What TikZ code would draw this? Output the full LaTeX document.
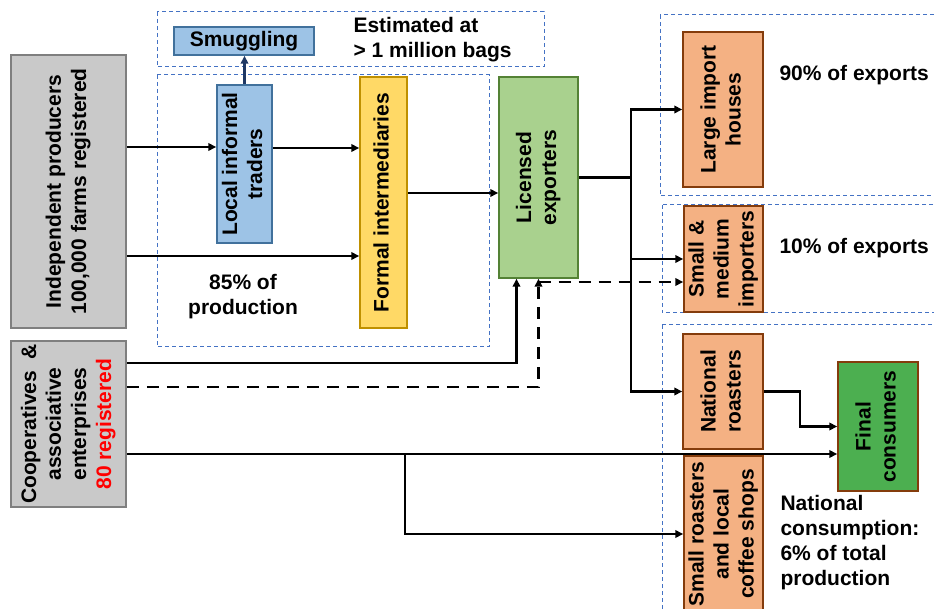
\documentclass[tikz,border=0pt]{standalone}
\usepackage{fontspec}
\setmainfont{Liberation Sans}
\usepackage{graphicx}
\usetikzlibrary{arrows.meta}

\newcommand{\vlines}[1]{\rotatebox{90}{\begin{tabular}{@{}c@{}}#1\end{tabular}}}

\begin{document}
\begin{tikzpicture}[x=1pt,y=1pt,yscale=-1,xscale=1,
  every node/.style={font=\fontsize{21}{25}\selectfont\bfseries},
  box/.style={draw, line width=1.5pt, inner sep=0pt},
  graybox/.style={box, draw={rgb, 255:red, 127; green, 127; blue, 127 }, fill={rgb, 255:red, 201; green, 201; blue, 201 }},
  bluebox/.style={box, draw={rgb, 255:red, 65; green, 113; blue, 156 }, fill={rgb, 255:red, 157; green, 195; blue, 230 }},
  yellowbox/.style={box, draw={rgb, 255:red, 191; green, 144; blue, 0 }, fill={rgb, 255:red, 255; green, 217; blue, 102 }},
  lgreenbox/.style={box, draw={rgb, 255:red, 84; green, 130; blue, 53 }, fill={rgb, 255:red, 169; green, 209; blue, 142 }},
  orangebox/.style={box, draw={rgb, 255:red, 132; green, 60; blue, 12 }, fill={rgb, 255:red, 244; green, 177; blue, 131 }},
  greenbox/.style={box, draw={rgb, 255:red, 132; green, 60; blue, 12 }, fill={rgb, 255:red, 76; green, 175; blue, 80 }},
  region/.style={draw={rgb, 255:red, 68; green, 114; blue, 196 }, line width=1pt, dash pattern=on 4pt off 3pt},
  line/.style={line width=2.7pt},
  flow/.style={line, -{Triangle[length=8pt,width=7.5pt]}},
  dflow/.style={flow, dash pattern=on 12pt off 8pt},
  smugflow/.style={line, draw={rgb, 255:red, 31; green, 56; blue, 100 }, -{Triangle[length=8pt,width=7.5pt]}}
]
\useasboundingbox (0,0) rectangle (934,609);
\clip (0,0) rectangle (934,609);

%Shape: Rectangle (dashed regions)
\draw [region] (157,12) rectangle (544,67) ;
\draw [region] (157,75) rectangle (489,347) ;
\draw [region] (660,15) rectangle (945,196) ;
\draw [region] (662,205) rectangle (945,313) ;
\draw [region] (662,325) rectangle (945,625) ;

%Shape: Rectangle
\node [graybox, minimum width=115pt, minimum height=273pt] (indep) at (68.5,191.5) {\vlines{Independent producers\\100,000 farms registered}};
%Shape: Rectangle
\node [graybox, minimum width=115pt, minimum height=166pt] (coop) at (68.5,424) {\vlines{Cooperatives \ \&\\associative\\enterprises\\\textcolor{red}{80 registered}}};
%Shape: Rectangle
\node [bluebox, minimum width=140pt, minimum height=28pt] (smug) at (244,41) {Smuggling};
%Shape: Rectangle
\node [bluebox, minimum width=55pt, minimum height=158pt] (local) at (244.5,164) {\vlines{Local informal\\traders}};
%Shape: Rectangle
\node [yellowbox, minimum width=47pt, minimum height=251pt] (formal) at (383.5,202.5) {\vlines{Formal intermediaries}};
%Shape: Rectangle
\node [lgreenbox, minimum width=79pt, minimum height=201pt] (licensed) at (538.5,177.5) {\vlines{Licensed\\exporters}};
%Shape: Rectangle
\node [orangebox, minimum width=80pt, minimum height=155pt] (large) at (723,109.5) {\vlines{Large import\\houses}};
%Shape: Rectangle
\node [orangebox, minimum width=79pt, minimum height=106pt] (smallmed) at (723.5,259) {\vlines{Small \&\\medium\\importers}};
%Shape: Rectangle
\node [orangebox, minimum width=80pt, minimum height=115pt] (natroast) at (723,391.5) {\vlines{National\\roasters}};
%Shape: Rectangle
\node [orangebox, minimum width=79pt, minimum height=156pt] (smallroast) at (723.5,534) {\vlines{Small roasters\\and local\\coffee shops}};
%Shape: Rectangle
\node [greenbox, minimum width=80pt, minimum height=129pt] (final) at (878,426.5) {\vlines{Final\\consumers}};

%Text Node
\node [anchor=west, align=left] (est) at (350,40) {Estimated at\\> 1 million bags};
%Text Node
\node [align=center] (share85) at (243,297) {85\% of\\production};
%Text Node
\node [anchor=west] (exp90) at (776,75) {90\% of exports};
%Text Node
\node [anchor=west] (exp10) at (776,248) {10\% of exports};
%Text Node
\node [anchor=west, align=left] (natcons) at (777,543) {National\\consumption:\\6\% of total\\production};

\coordinate (split) at (631,178);
\coordinate (fork) at (405,454);
\coordinate (bend) at (800,0);

%Straight Lines
\draw [flow] (indep.east |- 0,147) -- (local.west |- 0,147) ;
\draw [flow] (local.east |- 0,148) -- (formal.west |- 0,148) ;
\draw [flow] (indep.east |- 0,256) -- (formal.west |- 0,256) ;
\draw [smugflow] (local.north) -- (local.north |- smug.south) ;
\draw [flow] (formal.east |- 0,193) -- (licensed.west |- 0,193) ;
%Straight Lines (export branches)
\draw [line] (licensed.east) -- (split |- licensed.east) ;
\draw [flow] (split |- natroast.west) |- (large.west) ;
\draw [flow] (split |- large.west) |- (natroast.west) ;
\draw [flow] (split |- smallmed.west) -- (smallmed.west) ;
%Straight Lines (cooperatives)
\draw [flow] (coop.east |- 0,363) -| ([xshift=-22pt]licensed.south) ;
\draw [dflow] (coop.east |- 0,387) -| (licensed.south) ;
\draw [dflow] (licensed.south |- 0,282) -- (smallmed.west |- 0,282) ;
\draw [flow] (coop.east |- 0,454) -- (final.west |- 0,454) ;
\draw [flow] (fork) |- (smallroast.west) ;
\draw [flow] (natroast.east) -| (bend |- final.west) -- (final.west) ;

\end{tikzpicture}
\end{document}
